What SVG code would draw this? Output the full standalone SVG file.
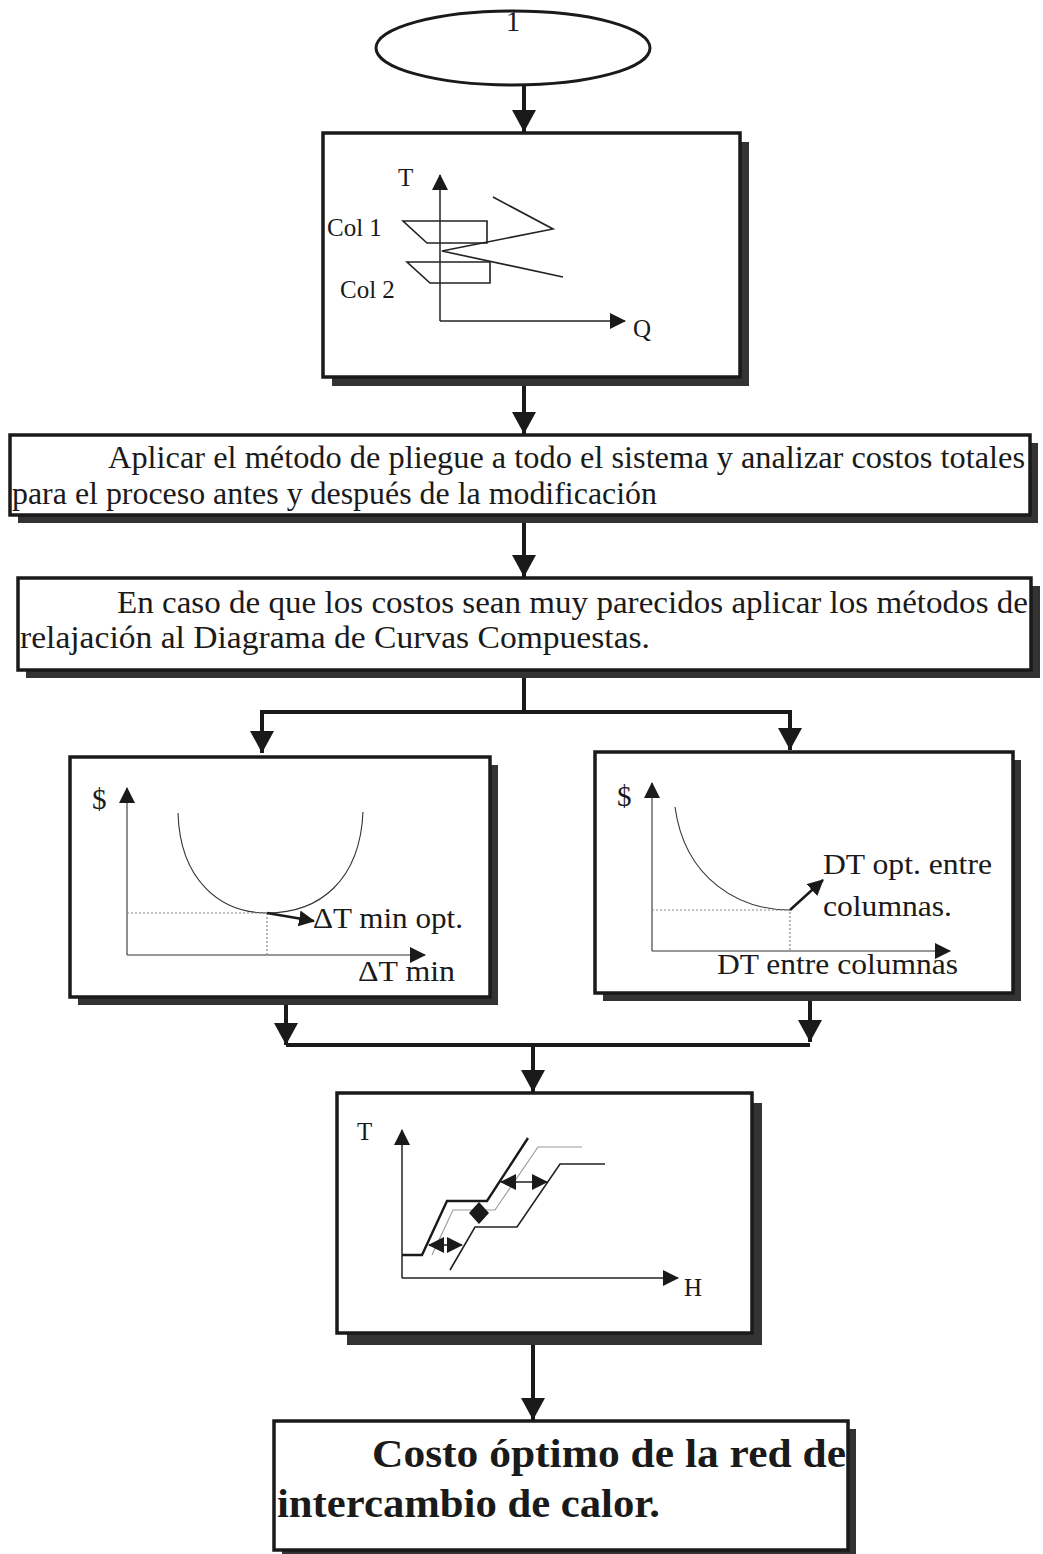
<svg xmlns="http://www.w3.org/2000/svg" width="1043" height="1554" viewBox="0 0 1043 1554" font-family="'Liberation Serif', 'Times New Roman', Times, serif">
<style>
text{fill:#1a1a1a}
.box{fill:#fff;stroke:#1a1a1a;stroke-width:3.5}
.sh{fill:#333}
.conn{stroke:#1a1a1a;stroke-width:4;fill:none}
.ax{stroke:#222;stroke-width:1.5;fill:none}
.ln{stroke:#222;stroke-width:1.6;fill:none}
.thin{stroke:#333;stroke-width:1.1;fill:none}
.dot{stroke:#888;stroke-width:1.2;stroke-dasharray:2 2;fill:none}
.faint{stroke:#999;stroke-width:1.1;fill:none}
.t22{font-size:25px}
.t28{font-size:29px}
.big{font-size:31px}
.bold{font-size:40px;font-weight:bold}
</style>
<defs>
<marker id="arr" viewBox="0 0 22 24" refX="22" refY="12" markerWidth="22" markerHeight="24" markerUnits="userSpaceOnUse" orient="auto"><path d="M0,0 L22,12 L0,24 z" fill="#1a1a1a"/></marker>
<marker id="axa" viewBox="0 0 16 16" refX="15" refY="8" markerWidth="16" markerHeight="16" markerUnits="userSpaceOnUse" orient="auto"><path d="M0,0 L16,8 L0,16 z" fill="#1a1a1a"/></marker>
<marker id="sa" viewBox="0 0 16 16" refX="15" refY="8" markerWidth="16" markerHeight="16" markerUnits="userSpaceOnUse" orient="auto-start-reverse"><path d="M0,0 L16,8 L0,16 z" fill="#1a1a1a"/></marker>
</defs>

<g id="connectors">
<line class="conn" x1="524" y1="86" x2="524" y2="132" marker-end="url(#arr)"/>
<line class="conn" x1="524" y1="385" x2="524" y2="434" marker-end="url(#arr)"/>
<line class="conn" x1="524" y1="523" x2="524" y2="577" marker-end="url(#arr)"/>
<polyline class="conn" points="524,678 524,712"/>
<polyline class="conn" points="262,712 790,712"/>
<line class="conn" x1="262" y1="710" x2="262" y2="753" marker-end="url(#arr)"/>
<line class="conn" x1="790" y1="710" x2="790" y2="750" marker-end="url(#arr)"/>
<line class="conn" x1="286" y1="1004" x2="286" y2="1045" marker-end="url(#arr)"/>
<line class="conn" x1="810" y1="1000" x2="810" y2="1042" marker-end="url(#arr)"/>
<polyline class="conn" points="286,1045 810,1045"/>
<line class="conn" x1="533" y1="1045" x2="533" y2="1092" marker-end="url(#arr)"/>
<line class="conn" x1="533" y1="1345" x2="533" y2="1420" marker-end="url(#arr)"/>
</g>

<g id="start">
<ellipse cx="513" cy="48" rx="137" ry="37" fill="#fff" stroke="#1a1a1a" stroke-width="3"/>
<text x="513" y="31" font-size="29" text-anchor="middle">1</text>
</g>

<g id="box1">
<rect class="sh" x="332" y="142" width="417" height="244"/>
<rect class="box" x="323" y="133" width="417" height="244"/>
<line class="ax" x1="440" y1="321" x2="440" y2="175" marker-end="url(#axa)"/>
<line class="ax" x1="440" y1="321" x2="625" y2="321" marker-end="url(#axa)"/>
<text class="t22" x="398" y="186">T</text>
<text class="t22" x="633" y="337">Q</text>
<text class="t22" x="327" y="236">Col 1</text>
<text class="t22" x="340" y="298">Col 2</text>
<polygon class="ln" points="403,221 487,221 487,243 427,243"/>
<polygon class="ln" points="407,262 490,262 490,283 430,283"/>
<polyline class="ln" points="493,197 553,229 442,251 563,277"/>
</g>

<g id="box2">
<rect class="sh" x="18" y="443" width="1020" height="80"/>
<rect class="box" x="10" y="435" width="1020" height="80"/>
<text class="big" x="108" y="468" textLength="917" lengthAdjust="spacingAndGlyphs">Aplicar el método de pliegue a todo el sistema y analizar costos totales</text>
<text class="big" x="12" y="504" textLength="645" lengthAdjust="spacingAndGlyphs">para el proceso antes y después de la modificación</text>
</g>

<g id="box3">
<rect class="sh" x="26" y="586" width="1014" height="92"/>
<rect class="box" x="18" y="578" width="1013" height="92"/>
<text class="big" x="117" y="613" textLength="911" lengthAdjust="spacingAndGlyphs">En caso de que los costos sean muy parecidos aplicar los métodos de</text>
<text class="big" x="20" y="648" textLength="630" lengthAdjust="spacingAndGlyphs">relajación al Diagrama de Curvas Compuestas.</text>
</g>

<g id="chart-dtmin">
<rect class="sh" x="78" y="765" width="420" height="240"/>
<rect class="box" x="70" y="757" width="420" height="240"/>
<line class="thin" x1="127" y1="955" x2="127" y2="788" marker-end="url(#axa)"/>
<line class="thin" x1="127" y1="955" x2="425" y2="955" marker-end="url(#axa)"/>
<text class="t28" x="92" y="809">$</text>
<path class="thin" d="M178,813 C180,880 220,913 267,913 C320,913 360,880 363,812"/>
<polyline class="dot" points="127,913 267,913 267,955"/>
<line stroke="#1a1a1a" stroke-width="2.5" x1="267" y1="913" x2="314" y2="921" marker-end="url(#sa)"/>
<text class="t28" x="313" y="928" textLength="150" lengthAdjust="spacingAndGlyphs">ΔT min opt.</text>
<text class="t28" x="358" y="981" textLength="97" lengthAdjust="spacingAndGlyphs">ΔT min</text>
</g>

<g id="chart-dtcol">
<rect class="sh" x="603" y="760" width="418" height="241"/>
<rect class="box" x="595" y="752" width="418" height="241"/>
<line class="thin" x1="652" y1="951" x2="652" y2="783" marker-end="url(#axa)"/>
<line class="thin" x1="652" y1="951" x2="950" y2="951" marker-end="url(#axa)"/>
<text class="t28" x="617" y="806">$</text>
<path class="thin" d="M675,807 C685,880 740,910 790,910"/>
<polyline class="dot" points="652,910 790,910 790,951"/>
<line stroke="#1a1a1a" stroke-width="2.5" x1="790" y1="910" x2="823" y2="880" marker-end="url(#sa)"/>
<text class="t28" x="823" y="874" textLength="169" lengthAdjust="spacingAndGlyphs">DT opt. entre</text>
<text class="t28" x="823" y="916" textLength="129" lengthAdjust="spacingAndGlyphs">columnas.</text>
<text class="t28" x="717" y="974" textLength="241" lengthAdjust="spacingAndGlyphs">DT entre columnas</text>
</g>

<g id="chart-composite">
<rect class="sh" x="347" y="1103" width="415" height="242"/>
<rect class="box" x="337" y="1093" width="415" height="240"/>
<line class="ax" x1="402" y1="1278" x2="402" y2="1130" marker-end="url(#axa)"/>
<line class="ax" x1="402" y1="1278" x2="678" y2="1278" marker-end="url(#axa)"/>
<text class="t22" x="357" y="1140">T</text>
<text class="t22" x="684" y="1296">H</text>
<polyline class="faint" points="432,1255 453,1210 495,1210 538,1147 582,1147"/>
<polyline stroke="#1a1a1a" stroke-width="2.4" fill="none" points="402,1255 422,1255 447,1201 487,1201 528,1138"/>
<polyline class="ln" points="450,1270 475,1227 517,1227 560,1164 605,1164"/>
<line stroke="#222" stroke-width="1.5" x1="429" y1="1245" x2="462" y2="1245" marker-start="url(#sa)" marker-end="url(#sa)"/>
<line stroke="#222" stroke-width="1.5" x1="501" y1="1182" x2="547" y2="1182" marker-start="url(#sa)" marker-end="url(#sa)"/>
<polygon points="479,1202 489,1213 479,1224 469,1213" fill="#1a1a1a"/>
</g>

<g id="end">
<rect class="sh" x="282" y="1429" width="574" height="129"/>
<rect class="box" x="274" y="1421" width="574" height="129"/>
<text class="bold" x="372" y="1467" textLength="474" lengthAdjust="spacingAndGlyphs">Costo óptimo de la red de</text>
<text class="bold" x="277" y="1517" textLength="383" lengthAdjust="spacingAndGlyphs">intercambio de calor.</text>
</g>
</svg>
